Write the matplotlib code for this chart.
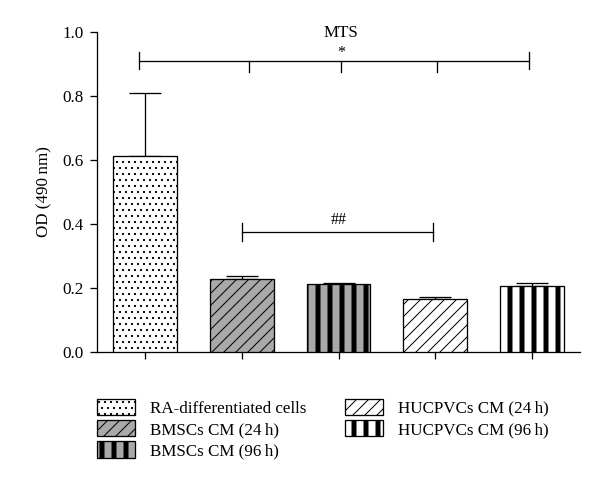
import numpy as np
import matplotlib
matplotlib.use("Agg")
import matplotlib.pyplot as plt

# data
groups = ["RA-differentiated cells", "BMSCs CM (24\u2009h)", "BMSCs CM (96\u2009h)",
          "HUCPVCs CM (24\u2009h)", "HUCPVCs CM (96\u2009h)"]
od_mean = [0.612, 0.228, 0.213, 0.167, 0.205]
od_err = [0.198, 0.010, 0.002, 0.006, 0.010]

# styling
faces = ["white", "#a9a9a9", "#a9a9a9", "white", "white"]
hatches = ["..", "//", "|", "//", "|"]
hatch_lw = [1.0, 1.0, 5.0, 1.0, 5.0]

plt.rcParams["font.family"] = ["Liberation Serif", "DejaVu Serif"]
plt.rcParams["font.size"] = 17

fig = plt.figure(figsize=(600 / 72, 490 / 72), dpi=72)
ax = fig.add_axes([97 / 600, 1 - 352 / 490, 483 / 600, 320 / 490])

x = np.arange(len(groups))
bars = []
for i in range(len(groups)):
    with plt.rc_context({"hatch.linewidth": hatch_lw[i]}):
        b = ax.bar(x[i], od_mean[i], width=0.66, color=faces[i], edgecolor="black",
                   linewidth=1.3, hatch=hatches[i], label=groups[i], zorder=3)
    for p in b:
        if hasattr(p, "set_hatch_linewidth"):
            p.set_hatch_linewidth(hatch_lw[i])
    bars.append(b)

ax.errorbar(x, od_mean, yerr=[np.zeros(len(x)), od_err], fmt="none",
            ecolor="black", elinewidth=1.3, capsize=16, capthick=1.3, zorder=2)

ax.set_xlim(-0.5, 4.5)
ax.set_ylim(0, 1.0)
ax.set_yticks(np.arange(0, 1.01, 0.2))
ax.set_yticklabels([f"{v:.1f}" for v in np.arange(0, 1.01, 0.2)])
ax.set_xticks(x)
ax.set_xticklabels([])
ax.tick_params(direction="out", length=7, width=1.3, pad=6)
ax.set_ylabel("OD (490\u2009nm)", labelpad=10)
for s in ["top", "right"]:
    ax.spines[s].set_visible(False)
for s in ["left", "bottom"]:
    ax.spines[s].set_linewidth(1.3)

# MTS significance bracket
y1 = 0.91
ax.plot([x[0] - 0.07, x[4] - 0.03], [y1, y1], color="black", lw=1.3, clip_on=False)
for xi in [x[0] - 0.07, x[4] - 0.03]:
    ax.plot([xi, xi], [y1 - 0.027, y1 + 0.027], color="black", lw=1.3, clip_on=False)
for xi in [x[1] + 0.07, x[2] + 0.03, x[3] + 0.02]:
    ax.plot([xi, xi], [y1, y1 - 0.035], color="black", lw=1.3, clip_on=False)
ax.text(x[2] + 0.03, 0.997, "MTS", ha="center", va="center", clip_on=False)
ax.text(x[2] + 0.03, 0.935, "*", ha="center", va="center", fontsize=16)

# ## bracket
y2 = 0.375
ax.plot([x[1], x[3] - 0.02], [y2, y2], color="black", lw=1.3)
for xi in [x[1], x[3] - 0.02]:
    ax.plot([xi, xi], [y2 - 0.028, y2 + 0.028], color="black", lw=1.3)
ax.text((x[1] + x[3]) / 2, 0.413, "##", ha="center", va="center", fontsize=16)

leg = fig.legend(handles=[b for b in bars], labels=groups, ncol=2, frameon=False,
                 loc="upper left", bbox_to_anchor=(90 / 600, 1 - 392 / 490),
                 handlelength=2.25, handleheight=1.1, labelspacing=0.2,
                 handletextpad=0.85, columnspacing=2.3, borderaxespad=0, fontsize=17)
for p, lw in zip(leg.get_patches(), hatch_lw):
    if hasattr(p, "set_hatch_linewidth"):
        p.set_hatch_linewidth(lw)

fig.savefig("out.png", dpi=72)
